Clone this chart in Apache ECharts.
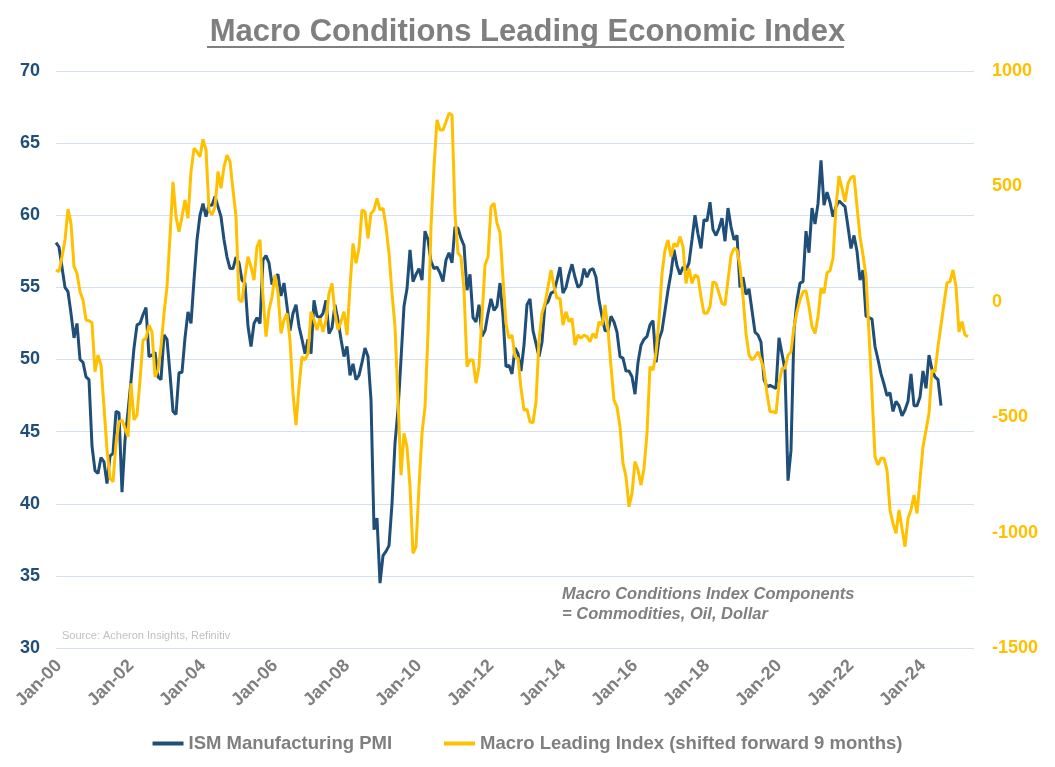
<!DOCTYPE html>
<html>
<head>
<meta charset="utf-8">
<script src="https://cdn.jsdelivr.net/npm/echarts@6/dist/echarts.min.js"></script>
<style>
html,body{margin:0;padding:0;background:#fff;}
#chart{width:1055px;height:767px;}
</style>
</head>
<body>
<div id="chart"></div>
<script>
// ---- categories: monthly, Dec-1999 .. Jun-2025 ----
const monthNames = ['Jan','Feb','Mar','Apr','May','Jun','Jul','Aug','Sep','Oct','Nov','Dec'];
const categories = [];
for (let y = 1999, mo = 11; y < 2025 || (y === 2025 && mo <= 5); ) {
  categories.push(monthNames[mo] + '-' + String(y % 100).padStart(2, '0'));
  mo++; if (mo > 11) { mo = 0; y++; }
}

// ---- ISM Manufacturing PMI (left axis), Dec-99 .. Jul-24 ----
const pmi1999 = [58.1];
const pmi2000 = [57.8, 56.4, 55.0, 54.7, 53.2, 51.5, 52.5, 50.0, 49.8, 48.8, 48.6, 44.0];
const pmi2001 = [42.3, 42.1, 43.2, 42.9, 41.4, 43.3, 43.5, 46.4, 46.3, 40.8, 44.4, 46.4];
const pmi2002 = [48.5, 50.8, 52.4, 52.5, 53.1, 53.6, 50.2, 50.3, 50.5, 48.8, 48.6, 51.7];
const pmi2003 = [51.4, 49.0, 46.4, 46.2, 49.1, 49.1, 51.5, 53.3, 52.5, 55.5, 58.3, 60.0];
const pmi2004 = [60.8, 59.9, 60.7, 60.7, 61.3, 60.6, 59.9, 58.3, 57.1, 56.3, 56.3, 57.1];
const pmi2005 = [56.7, 55.5, 55.3, 52.3, 50.9, 52.5, 52.9, 52.5, 56.9, 57.2, 56.7, 55.2];
const pmi2006 = [55.7, 55.9, 54.4, 55.3, 53.7, 52.0, 53.2, 53.8, 52.3, 51.4, 50.4, 51.4];
const pmi2007 = [50.4, 54.1, 53.0, 52.9, 53.2, 54.1, 51.8, 52.2, 53.8, 52.7, 51.4, 50.2];
const pmi2008 = [50.9, 48.9, 49.7, 48.6, 48.9, 49.8, 50.8, 50.2, 47.2, 38.2, 39.0, 34.5];
const pmi2009 = [36.4, 36.7, 37.1, 40.0, 44.2, 46.5, 50.0, 53.7, 54.9, 57.6, 55.4, 55.9];
const pmi2010 = [56.3, 55.5, 58.9, 58.3, 56.8, 56.3, 56.4, 56.0, 55.4, 56.9, 57.4, 56.7];
const pmi2011 = [59.2, 59.1, 58.4, 57.9, 54.8, 55.9, 52.9, 52.6, 53.8, 51.6, 52.0, 53.2];
const pmi2012 = [54.2, 53.4, 53.7, 55.3, 53.0, 49.5, 49.6, 49.0, 50.8, 50.4, 49.2, 51.0];
const pmi2013 = [53.8, 54.2, 52.0, 51.1, 50.2, 51.2, 53.8, 54.0, 54.6, 54.7, 55.5, 56.4];
const pmi2014 = [54.6, 55.0, 55.9, 56.6, 55.7, 55.0, 55.2, 56.3, 55.7, 56.2, 56.3, 55.7];
const pmi2015 = [54.1, 53.0, 52.0, 52.0, 53.0, 52.6, 51.9, 50.2, 50.1, 49.2, 49.2, 48.8];
const pmi2016 = [47.6, 49.8, 51.0, 51.4, 51.6, 52.4, 52.7, 49.8, 51.4, 52.0, 53.4, 54.8];
const pmi2017 = [56.0, 57.6, 56.5, 55.9, 56.4, 56.2, 56.7, 58.3, 60.0, 58.7, 57.7, 59.7];
const pmi2018 = [59.6, 60.9, 59.0, 58.6, 59.1, 59.8, 58.2, 60.5, 59.2, 58.3, 58.6, 55.0];
const pmi2019 = [55.7, 54.5, 54.9, 53.4, 51.9, 51.7, 51.2, 48.6, 48.1, 48.2, 48.1, 48.0];
const pmi2020 = [51.5, 50.4, 49.3, 41.6, 43.7, 52.0, 54.1, 55.3, 55.4, 58.9, 57.4, 60.5];
const pmi2021 = [59.4, 60.8, 63.8, 60.7, 61.6, 60.9, 59.9, 60.6, 61.0, 60.8, 60.6, 59.2];
const pmi2022 = [57.7, 58.6, 57.5, 55.5, 56.2, 53.0, 52.9, 52.8, 50.9, 50.0, 49.0, 48.3];
const pmi2023 = [47.5, 47.7, 46.4, 47.1, 46.8, 46.1, 46.5, 47.1, 49.0, 46.8, 46.8, 47.4];
const pmi2024 = [49.2, 48.0, 50.3, 49.3, 48.8, 48.6, 46.8];

// ---- Macro Leading Index, shifted forward 9 months (right axis), Dec-99 .. Apr-25 ----
const mli1999 = [138];
const mli2000 = [130, 195, 268, 401, 340, 152, 123, 44, 8, -79, -82, -91];
const mli2001 = [-303, -231, -274, -455, -642, -765, -780, -613, -520, -512, -548, -585];
const mli2002 = [-353, -512, -490, -339, -166, -158, -101, -130, -325, -296, -195, -50];
const mli2003 = [65, 282, 520, 369, 304, 369, 441, 362, 564, 665, 650, 629];
const mli2004 = [704, 658, 398, 376, 412, 564, 492, 585, 636, 607, 484, 369];
const mli2005 = [10, 0, 109, 195, 152, 94, 239, 268, 22, -151, -36, 22];
const mli2006 = [116, 37, -137, -79, -50, -166, -397, -534, -368, -238, -252, -223];
const mli2007 = [-43, -79, -122, -72, -130, -79, 37, 80, -50, -122, -86, -43];
const mli2008 = [-144, 65, 253, 167, 232, 398, 390, 275, 383, 398, 448, 398];
const mli2009 = [405, 325, 210, 37, -108, -426, -751, -570, -628, -801, -1090, -1061];
const mli2010 = [-801, -570, -455, -137, 325, 585, 788, 744, 744, 780, 817, 809];
const mli2011 = [383, 210, 195, 51, -281, -252, -252, -353, -281, -65, 159, 195];
const mli2012 = [412, 427, 340, 300, 100, -95, -158, -144, -238, -245, -375, -469];
const mli2013 = [-466, -520, -524, -433, -166, -50, -7, 65, 138, 65, 15, 15];
const mli2014 = [-101, -43, -86, -72, -187, -144, -158, -144, -151, -173, -137, -158];
const mli2015 = [-86, -101, -14, -120, -281, -426, -455, -541, -700, -758, -888, -830];
const mli2016 = [-693, -729, -794, -722, -570, -281, -296, -223, -79, 123, 224, 268];
const mli2017 = [195, 253, 239, 282, 239, 80, 145, 80, 116, 109, 22, -50];
const mli2018 = [-50, -21, 87, 80, 37, -7, -14, 94, 200, 232, 224, 152];
const mli2019 = [22, -137, -230, -252, -238, -216, -252, -296, -397, -476, -476, -483];
const mli2020 = [-353, -288, -288, -231, -216, -108, -43, 8, 44, 48, -21, -108];
const mli2021 = [-137, -65, 58, 37, 126, 135, 188, 412, 545, 492, 434, 513];
const mli2022 = [539, 545, 412, 282, 203, 109, -137, -397, -671, -707, -678, -678];
const mli2023 = [-729, -902, -960, -1003, -902, -982, -1061, -938, -902, -837, -917, -772];
const mli2024 = [-628, -556, -483, -296, -303, -195, -101, -7, 83, 87, 138, 65];
const mli2025 = [-130, -86, -144, -151];

// ---- axis ticks ----
const leftTicks = [30, 35, 40, 45, 50, 55, 60, 65, 70];
const rightTicks = [-1500, -1000, -500, 0, 500, 1000];

const pmi = [].concat(pmi1999, pmi2000, pmi2001, pmi2002, pmi2003, pmi2004, pmi2005, pmi2006,
  pmi2007, pmi2008, pmi2009, pmi2010, pmi2011, pmi2012, pmi2013, pmi2014, pmi2015, pmi2016,
  pmi2017, pmi2018, pmi2019, pmi2020, pmi2021, pmi2022, pmi2023, pmi2024);
const mli = [].concat(mli1999, mli2000, mli2001, mli2002, mli2003, mli2004, mli2005, mli2006,
  mli2007, mli2008, mli2009, mli2010, mli2011, mli2012, mli2013, mli2014, mli2015, mli2016,
  mli2017, mli2018, mli2019, mli2020, mli2021, mli2022, mli2023, mli2024, mli2025);

const NAVY = '#1f4e79';
const GOLD = '#ffc000';
const GRAY = '#7f7f7f';
const FONT = '"Liberation Sans", Arial, sans-serif';

const chart = echarts.init(document.getElementById('chart'), null, {renderer: 'canvas'});
chart.setOption({
  animation: false,
  backgroundColor: '#ffffff',
  title: {
    text: 'Macro Conditions Leading Economic Index',
    left: 'center',
    top: 17,
    padding: 0,
    textStyle: {fontFamily: FONT, fontSize: 31, fontWeight: 'bold', color: GRAY}
  },
  grid: {left: 56, right: 81, top: 71, bottom: 119, containLabel: false},
  legend: {
    bottom: 9,
    left: 'center',
    icon: 'rect',
    itemWidth: 31,
    itemHeight: 4,
    itemGap: 52,
    textStyle: {fontFamily: FONT, fontSize: 18.5, fontWeight: 'bold', color: GRAY},
    data: ['ISM Manufacturing PMI', 'Macro Leading Index (shifted forward 9 months)']
  },
  xAxis: {
    type: 'category',
    data: categories,
    boundaryGap: false,
    axisLine: {show: false},
    axisTick: {show: false},
    splitLine: {show: false},
    axisLabel: {
      interval: function (idx, val) {
        return val.indexOf('Jan-') === 0 && parseInt(val.slice(4), 10) % 2 === 0;
      },
      rotate: 45,
      margin: 15,
      fontFamily: FONT,
      fontSize: 18,
      fontWeight: 'bold',
      color: GRAY
    }
  },
  yAxis: [
    {
      type: 'value',
      min: leftTicks[0],
      max: leftTicks[leftTicks.length - 1],
      interval: 5,
      position: 'left',
      axisLine: {show: false},
      axisTick: {show: false},
      splitLine: {show: true, lineStyle: {color: '#d5e0ee', width: 1}},
      axisLabel: {margin: 16, fontFamily: FONT, fontSize: 18, fontWeight: 'bold', color: NAVY}
    },
    {
      type: 'value',
      min: rightTicks[0],
      max: rightTicks[rightTicks.length - 1],
      interval: 500,
      position: 'right',
      axisLine: {show: false},
      axisTick: {show: false},
      splitLine: {show: false},
      axisLabel: {
        margin: 18, fontFamily: FONT, fontSize: 18, fontWeight: 'bold', color: GOLD,
        formatter: function (v) { return String(v); }
      }
    }
  ],
  series: [
    {
      name: 'ISM Manufacturing PMI',
      type: 'line',
      yAxisIndex: 0,
      data: pmi,
      showSymbol: false,
      symbol: 'none',
      lineStyle: {color: NAVY, width: 3},
      itemStyle: {color: NAVY},
      z: 2
    },
    {
      name: 'Macro Leading Index (shifted forward 9 months)',
      type: 'line',
      yAxisIndex: 1,
      data: mli,
      showSymbol: false,
      symbol: 'none',
      lineStyle: {color: GOLD, width: 3},
      itemStyle: {color: GOLD},
      z: 3
    }
  ],
  graphic: [
    {
      type: 'rect',
      shape: {x: 207, y: 46, width: 637, height: 2},
      style: {fill: GRAY},
      silent: true
    },
    {
      type: 'text',
      left: 62,
      top: 630,
      style: {text: 'Source: Acheron Insights, Refinitiv', fontFamily: FONT, fontSize: 11, fill: '#c0c0c0'},
      silent: true
    },
    {
      type: 'text',
      left: 562,
      top: 584,
      style: {
        text: 'Macro Conditions Index Components\n= Commodities, Oil, Dollar',
        fontFamily: FONT, fontSize: 16.5, fontWeight: 'bold', fontStyle: 'italic',
        lineHeight: 20, fill: GRAY
      },
      silent: true
    }
  ]
});
</script>
</body>
</html>
